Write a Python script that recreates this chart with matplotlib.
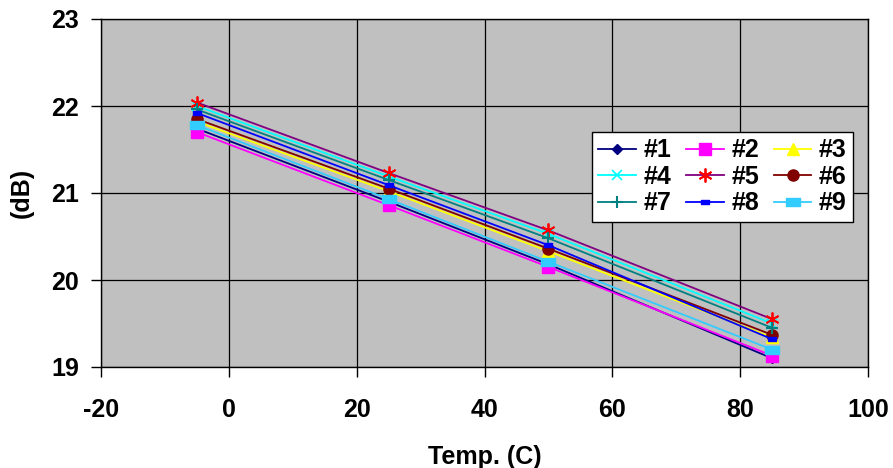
import matplotlib
matplotlib.use("Agg")
import matplotlib.pyplot as plt
from matplotlib.path import Path
import numpy as np

plt.rcParams['font.family'] = ['Liberation Sans', 'DejaVu Sans']
plt.rcParams['font.weight'] = 'bold'
plt.rcParams['axes.unicode_minus'] = False

temps = [-5, 25, 50, 85]
series_names = ['#1', '#2', '#3', '#4', '#5', '#6', '#7', '#8', '#9']
s1 = [21.74, 20.90, 20.18, 19.10]
s2 = [21.70, 20.86, 20.15, 19.13]
s3 = [21.82, 21.02, 20.33, 19.34]
s4 = [22.00, 21.19, 20.53, 19.50]
s5 = [22.04, 21.23, 20.57, 19.55]
s6 = [21.85, 21.05, 20.36, 19.37]
s7 = [21.96, 21.15, 20.48, 19.45]
s8 = [21.92, 21.09, 20.40, 19.32]
s9 = [21.78, 20.93, 20.21, 19.20]
x_ticks = [-20, 0, 20, 40, 60, 80, 100]
y_ticks = [19, 20, 21, 22, 23]

rect_wide = Path([(-1, -0.55), (1, -0.55), (1, 0.55), (-1, 0.55), (-1, -0.55)],
                 [Path.MOVETO, Path.LINETO, Path.LINETO, Path.LINETO, Path.CLOSEPOLY])

styles = [
    dict(color='#000080', marker='D', ms=5, mfc='#000080', mec='#000080'),
    dict(color='#FF00FF', marker='s', ms=8, mfc='#FF00FF', mec='#FF00FF'),
    dict(color='#FFFF00', marker='^', ms=8, mfc='#FFFF00', mec='#FFFF00'),
    dict(color='#00FFFF', marker='x', ms=7, mec='#00FFFF', mew=1.2),
    dict(color='#800080', marker=(6, 2, 0), ms=10, mec='#FF0000', mew=1.3),
    dict(color='#800000', marker='o', ms=8, mfc='#800000', mec='#800000'),
    dict(color='#008080', marker='+', ms=9, mec='#008080', mew=1.5),
    dict(color='#0000FF', marker=rect_wide, ms=6, mfc='#0000FF', mec='#0000FF'),
    dict(color='#33CCFF', marker=rect_wide, ms=10, mfc='#33CCFF', mec='#33CCFF'),
]
data = [s1, s2, s3, s4, s5, s6, s7, s8, s9]

fig = plt.figure(figsize=(8.93, 4.68), dpi=100)
ax = fig.add_axes([101/893, 1-367/468, (868-101)/893, (367-19)/468])
ax.set_facecolor('#C0C0C0')

handles = []
for name, vals, st in zip(series_names, data, styles):
    h, = ax.plot(temps, vals, lw=1.3, label=name, **st)
    handles.append(h)

ax.set_xlim(-20, 100)
ax.set_ylim(19, 23)
ax.set_xticks(x_ticks)
ax.set_yticks(y_ticks)
ax.grid(True, color='black', lw=0.9)
ax.set_axisbelow(True)
for sp in ax.spines.values():
    sp.set_color('black')
    sp.set_linewidth(1.0)
ax.tick_params(axis='both', direction='out', length=7, width=1, colors='black', labelsize=18)
ax.tick_params(axis='x', pad=15)
ax.tick_params(axis='y', pad=9)
ax.set_xlabel('Temp. (C)', fontsize=18, fontweight='bold', labelpad=17)
ax.set_ylabel('(dB)', fontsize=18, fontweight='bold', labelpad=12)

order = [0, 3, 6, 1, 4, 7, 2, 5, 8]
leg = fig.legend([handles[i] for i in order], [series_names[i] for i in order],
                 ncol=3, loc='upper left', bbox_to_anchor=(592/893, 1-132/468),
                 bbox_transform=fig.transFigure, borderaxespad=0,
                 prop={'weight': 'bold', 'size': 18},
                 handlelength=1.5, handletextpad=0.3, columnspacing=0.6,
                 labelspacing=0.1, borderpad=0.25, fancybox=False,
                 framealpha=1, edgecolor='black', facecolor='white')
leg.get_frame().set_linewidth(1.0)

fig.savefig('out.png', dpi=100)
